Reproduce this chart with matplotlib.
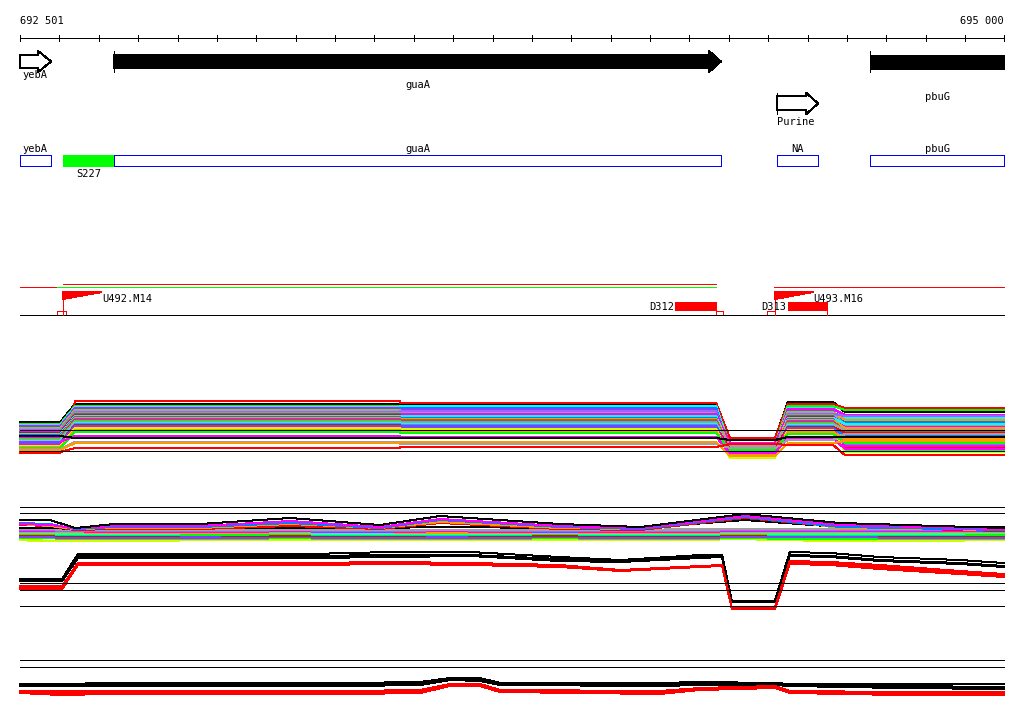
import numpy as np
import matplotlib
matplotlib.use("Agg")
import matplotlib.pyplot as plt
from matplotlib.patches import Polygon, Rectangle

plt.rcParams['font.family'] = ['DejaVu Sans Mono']
plt.rcParams['lines.antialiased'] = False
plt.rcParams['patch.antialiased'] = False

W, H = 1024, 714
START, END = 692501, 695000
BPP = (END - START) / 984.0          # bp per screen pixel
XLIM = (START - 20 * BPP, END + 20 * BPP)
FS = 7.5
LW = 0.72                            # one screen pixel

RED = "#ff0000"; LIME = "#00ff00"; BLUE = "#0080ff"; MAG = "#ff00ff"; CYAN = "#00ffff"
ORANGE = "#ff9900"; GRAY = "#a0a0a0"; PURPLE = "#9966ff"; YEL = "#ccff00"; BROWN = "#996633"
BLACK = "#000000"

# ---------------- annotation data (bp) ----------------
tick_pos = list(range(START, END + 2, 100))

gene_names = ["yebA", "guaA", "pbuG"]
gene_start = [692501, 692740, 694660]
gene_end = [692580, 694281, 695000]
gene_kind = ["open", "filled", "bar"]

rbs_names = ["Purine"]
rbs_start = [694423]
rbs_end = [694528]

box_names = ["yebA", "S227", "guaA", "NA", "pbuG"]
box_start = [692501, 692610, 692740, 694423, 694660]
box_end = [692580, 692740, 694281, 694528, 695000]
box_fill = [None, LIME, None, None, None]

seg_start = [692501, 692595, 692610, 694416]
seg_end = [692595, 694269, 694269, 695000]
seg_color = [RED, LIME, RED, RED]
seg_level = ["low", "low", "high", "low"]

flag_names = ["U492.M14", "U493.M16"]
flag_pos = [692610, 694418]
flag_len = [99, 97]

del_names = ["D312", "D313"]
del_start = [694165, 694451]
del_end = [694269, 694550]

site_start = [692595, 694269, 694398]
site_end = [692618, 694287, 694418]

# ---------------- panel 2: many samples ----------------
p2_x = [692501, 692603, 692641, 693466, 693466, 694269, 694304, 694418, 694451, 694566, 694596, 695000]
p2_ref = [30, 9]
p2_colors = [BLACK, RED, LIME, CYAN, MAG, BLUE, ORANGE, GRAY, PURPLE, LIME, MAG, RED,
             CYAN, BLUE, ORANGE, BROWN, MAG, LIME, GRAY, CYAN, PURPLE, RED, BLUE, MAG,
             YEL, ORANGE, LIME, MAG, GRAY, ORANGE, RED, BLACK]
# levels: pre, main_a, main_b, dip, post, tail
p2_levels = [
    [38, 56, 55, 21, 58, 48], [7, 59, 57, 22, 56, 52], [36, 54, 53, 16, 54, 50],
    [35, 53, 54, 14, 52, 42], [34, 52, 50, 12, 51, 45], [33, 51, 52, 10, 49, 38],
    [32, 50, 48, 15, 48, 40], [31, 49, 47, 13, 47, 35], [30, 48, 49, 11, 46, 44],
    [29, 47, 45, 9, 45, 25], [28, 46, 46, 17, 44, 33], [27, 45, 43, 8, 43, 12],
    [26, 44, 44, 12, 42, 36], [25, 43, 42, 6, 41, 20], [24, 42, 41, 13, 40, 32],
    [23, 41, 40, 10, 39, 28], [22, 40, 39, 7, 38, 18], [21, 39, 38, 4, 37, 10],
    [20, 38, 37, 14, 36, 30], [19, 37, 36, 8, 35, 22], [18, 36, 35, 5, 34, 16],
    [17, 35, 33, 11, 33, 27], [16, 34, 34, 3, 32, 24], [15, 33, 32, 9, 31, 14],
    [14, 32, 31, 2, 30, 8], [13, 30, 29, 6, 28, 21], [12, 28, 27, 10, 26, 17],
    [18, 24, 23, 7, 22, 11], [11, 18, 16, 12, 20, 26], [10, 17, 18, 4, 17, 19],
    [8, 12, 13, 16, 15, 5], [24, 22, 22, 20, 23, 23],
]

# ---------------- panel 3a ----------------
p3a_x = [692501, 692577, 692641, 692742, 692958, 693187, 693415, 693568, 693872, 694076, 694342, 694583, 695000]
p3a_ref = [38, 32]
p3a_colors = [BLACK, MAG, BLUE, ORANGE, RED, BLACK, GRAY, PURPLE, MAG, ORANGE, CYAN, LIME,
              RED, BLUE, MAG, LIME, YEL]
p3a_vals = [
    [25, 25, 17, 21, 21, 27, 20, 29, 21, 18, 31, 22, 17],
    [21, 20, 17, 19, 19, 24, 18, 26, 19, 17, 29, 20, 16],
    [22, 21, 16, 18, 18, 22, 17, 25, 18, 16, 28, 18, 15],
    [21, 19, 16, 17, 17, 21, 17, 23, 17, 16, 30, 17, 15],
    [20, 19, 15, 16, 16, 19, 16, 22, 16, 15, 27, 18, 14],
    [17, 17, 16, 17, 17, 17, 17, 18, 17, 17, 25, 18, 18],
    [16, 16, 15, 15, 15, 15, 15, 15, 15, 15, 16, 16, 16],
    [15, 15, 14, 14, 14, 15, 14, 15, 14, 14, 15, 15, 15],
    [14, 14, 14, 13, 13, 14, 13, 14, 13, 13, 14, 14, 14],
    [13, 13, 13, 12, 12, 13, 13, 12, 13, 12, 13, 13, 13],
    [12, 12, 11, 11, 12, 12, 11, 11, 12, 11, 12, 11, 12],
    [11, 11, 10, 10, 10, 11, 10, 10, 11, 10, 11, 10, 10],
    [10, 10, 9, 9, 10, 9, 9, 10, 9, 9, 10, 10, 9],
    [9, 9, 8, 8, 9, 8, 8, 9, 8, 8, 9, 9, 8],
    [8, 8, 7, 7, 7, 8, 7, 7, 8, 7, 8, 8, 7],
    [7, 7, 6, 6, 6, 7, 6, 6, 7, 6, 7, 6, 6],
    [5, 4, 4, 4, 5, 5, 5, 5, 5, 5, 6, 4, 5],
]

# ---------------- panel 3b ----------------
p3b_x = [692501, 692608, 692648, 693237, 693441, 693644, 693872, 694025, 694228, 694284,
         694309, 694418, 694456, 694558, 694685, 694888, 695000]
p3b_ref = [29, 22, 6]
p3b_colors = [BLACK, BLACK, BLACK, RED, RED, RED]
p3b_vals = [
    [33, 33, 58, 58, 60, 60, 55, 52, 57, 57, 11, 11, 60, 59, 55, 52, 49],
    [32, 32, 56, 56, 57, 57, 53, 51, 56, 56, 10, 10, 57, 56, 52, 49, 46],
    [31, 31, 54, 54, 55, 56, 51, 50, 54, 55, 10, 10, 56, 55, 51, 48, 45],
    [26, 26, 49, 49, 50, 49, 47, 42, 46, 47, 4, 4, 51, 50, 47, 41, 38],
    [24, 24, 48, 48, 49, 48, 46, 41, 45, 46, 3, 3, 49, 49, 45, 39, 36],
    [23, 23, 47, 47, 48, 47, 45, 41, 45, 46, 3, 3, 48, 47, 43, 38, 35],
]

# ---------------- panel 4 ----------------
p4_x = [692501, 692603, 692730, 693339, 693517, 693593, 693669, 693720, 694126, 694228,
        694418, 694456, 694736, 695000]
p4_ref = [40, 33]
p4_colors = [BLACK, BLACK, BLACK, RED, RED, RED]
p4_vals = [
    [16, 16, 17, 17, 18, 22, 22, 17, 17, 18, 17, 16, 16, 16],
    [15, 15, 16, 16, 16, 21, 21, 16, 15, 16, 16, 15, 14, 13],
    [14, 14, 14, 14, 15, 20, 19, 15, 14, 15, 15, 14, 12, 11],
    [9, 9, 9, 9, 10, 16, 16, 10, 9, 12, 14, 9, 8, 8],
    [8, 7, 8, 8, 9, 15, 15, 9, 8, 11, 13, 8, 7, 7],
    [7, 5, 6, 6, 7, 14, 14, 8, 6, 10, 12, 7, 5, 5],
]


def track_axes(fig, row0, row1, ylim):
    ax = fig.add_axes([0, 1 - row1 / H, 1, (row1 - row0) / H])
    ax.set_xlim(*XLIM)
    ax.set_ylim(*ylim)
    ax.axis("off")
    ax.patch.set_alpha(0)
    return ax


def arrow(ax, s, e, y0, y1, hy0, hy1, head, fc):
    pts = [(s, y0), (e - head, y0), (e - head, hy0), (e, (hy0 + hy1) / 2),
           (e - head, hy1), (e - head, y1), (s, y1)]
    ax.add_patch(Polygon(pts, closed=True, fc=fc, ec=BLACK, lw=LW))


fig = plt.figure(figsize=(W / 100, H / 100), dpi=100)
ax = fig.add_axes([0, 0, 1, 1])
ax.set_xlim(*XLIM)
ax.set_ylim(H, 0)
ax.axis("off")

# ruler
ax.hlines(38, START, END, color=BLACK, lw=LW)
ax.vlines(tick_pos, 35, 41, color=BLACK, lw=LW)
ax.text(START, 24, "692 501", fontsize=FS, ha="left", va="baseline")
ax.text(END, 24, "695 000", fontsize=FS, ha="right", va="baseline")

# genes
for name, s, e, kind in zip(gene_names, gene_start, gene_end, gene_kind):
    if kind == "open":
        arrow(ax, s, e, 55, 68, 51, 72, 33, "white")
        ax.text(s + 5, 78, name, fontsize=FS, ha="left", va="baseline")
    elif kind == "filled":
        arrow(ax, s, e, 55, 68, 51, 72, 30, BLACK)
        ax.vlines(s, 51, 72, color=BLACK, lw=LW)
        ax.text((s + e) / 2, 88, name, fontsize=FS, ha="center", va="baseline")
    else:
        ax.add_patch(Rectangle((s, 55), e - s, 14, fc=BLACK, ec=BLACK, lw=LW))
        ax.vlines(s, 51, 72, color=BLACK, lw=LW)
        ax.text((s + e) / 2, 100, name, fontsize=FS, ha="center", va="baseline")

for name, s, e in zip(rbs_names, rbs_start, rbs_end):
    arrow(ax, s, e, 96, 110, 93, 114, 30, "white")
    ax.vlines(s, 93, 114, color=BLACK, lw=LW)
    ax.text(s, 125, name, fontsize=FS, ha="left", va="baseline")

# feature boxes
for name, s, e, fill in zip(box_names, box_start, box_end, box_fill):
    if fill:
        ax.add_patch(Rectangle((s, 155), e - s, 11, fc=fill, ec=fill, lw=LW))
        ax.text((s + e) / 2, 177, name, fontsize=FS, ha="center", va="baseline")
    else:
        ax.add_patch(Rectangle((s, 155), e - s, 11, fc="none", ec="#0000ff", lw=LW))
        if name == "yebA":
            ax.text(s + 5, 152, name, fontsize=FS, ha="left", va="baseline")
        else:
            ax.text((s + e) / 2, 152, name, fontsize=FS, ha="center", va="baseline")

# mutation track
for s, e, c, lev in zip(seg_start, seg_end, seg_color, seg_level):
    ax.hlines(284 if lev == "high" else 287, s, e, color=c, lw=LW)
ax.hlines(315, START, END, color=BLACK, lw=LW)
for s, e in zip(site_start, site_end):
    ax.add_patch(Rectangle((s, 311), e - s, 4, fc="none", ec=RED, lw=LW))
for name, s, e in zip(del_names, del_start, del_end):
    ax.add_patch(Rectangle((s, 302), e - s, 8, fc=RED, ec=RED, lw=LW))
    ax.text(s - 3, 310, name, fontsize=FS, ha="right", va="baseline")
ax.vlines(del_end[1], 302, 315, color=RED, lw=LW)
for name, p, ln in zip(flag_names, flag_pos, flag_len):
    ax.vlines(p, 292, 315, color=RED, lw=LW)
    ax.add_patch(Polygon([(p, 292), (p + ln, 292), (p, 299)], closed=True, fc=RED, ec=RED, lw=LW))
    ax.text(p + ln, 302, name, fontsize=FS, ha="left", va="baseline")

# panel 2
ax2 = track_axes(fig, 380, 470, (-10, 80))
for c, lv in zip(p2_colors, p2_levels):
    pre, ma, mb, dip, post, tail = lv
    ys = [pre, pre, ma, ma, mb, mb, dip, dip, post, post, tail, tail]
    ax2.plot(p2_x, ys, color=c, lw=LW)
ax2.hlines(p2_ref, START, END, color=BLACK, lw=LW, zorder=5)

# panel 3a
ax3 = track_axes(fig, 500, 545, (0, 45))
for i, (c, v) in reversed(list(enumerate(zip(p3a_colors, p3a_vals)))):
    ax3.plot(p3a_x, v, color=c, lw=LW if i < 6 else 1.1)
ax3.hlines(p3a_ref, START, END, color=BLACK, lw=LW)

# panel 3b
ax4 = track_axes(fig, 545, 612, (0, 67))
for c, v in zip(p3b_colors, p3b_vals):
    ax4.plot(p3b_x, v, color=c, lw=LW)
ax4.hlines(p3b_ref, START, END, color=BLACK, lw=LW)

# panel 4
ax5 = track_axes(fig, 650, 705, (-5, 50))
for c, v in zip(p4_colors, p4_vals):
    ax5.plot(p4_x, v, color=c, lw=LW)
ax5.hlines(p4_ref, START, END, color=BLACK, lw=LW)

fig.savefig("out.png", dpi=100, facecolor="white")
